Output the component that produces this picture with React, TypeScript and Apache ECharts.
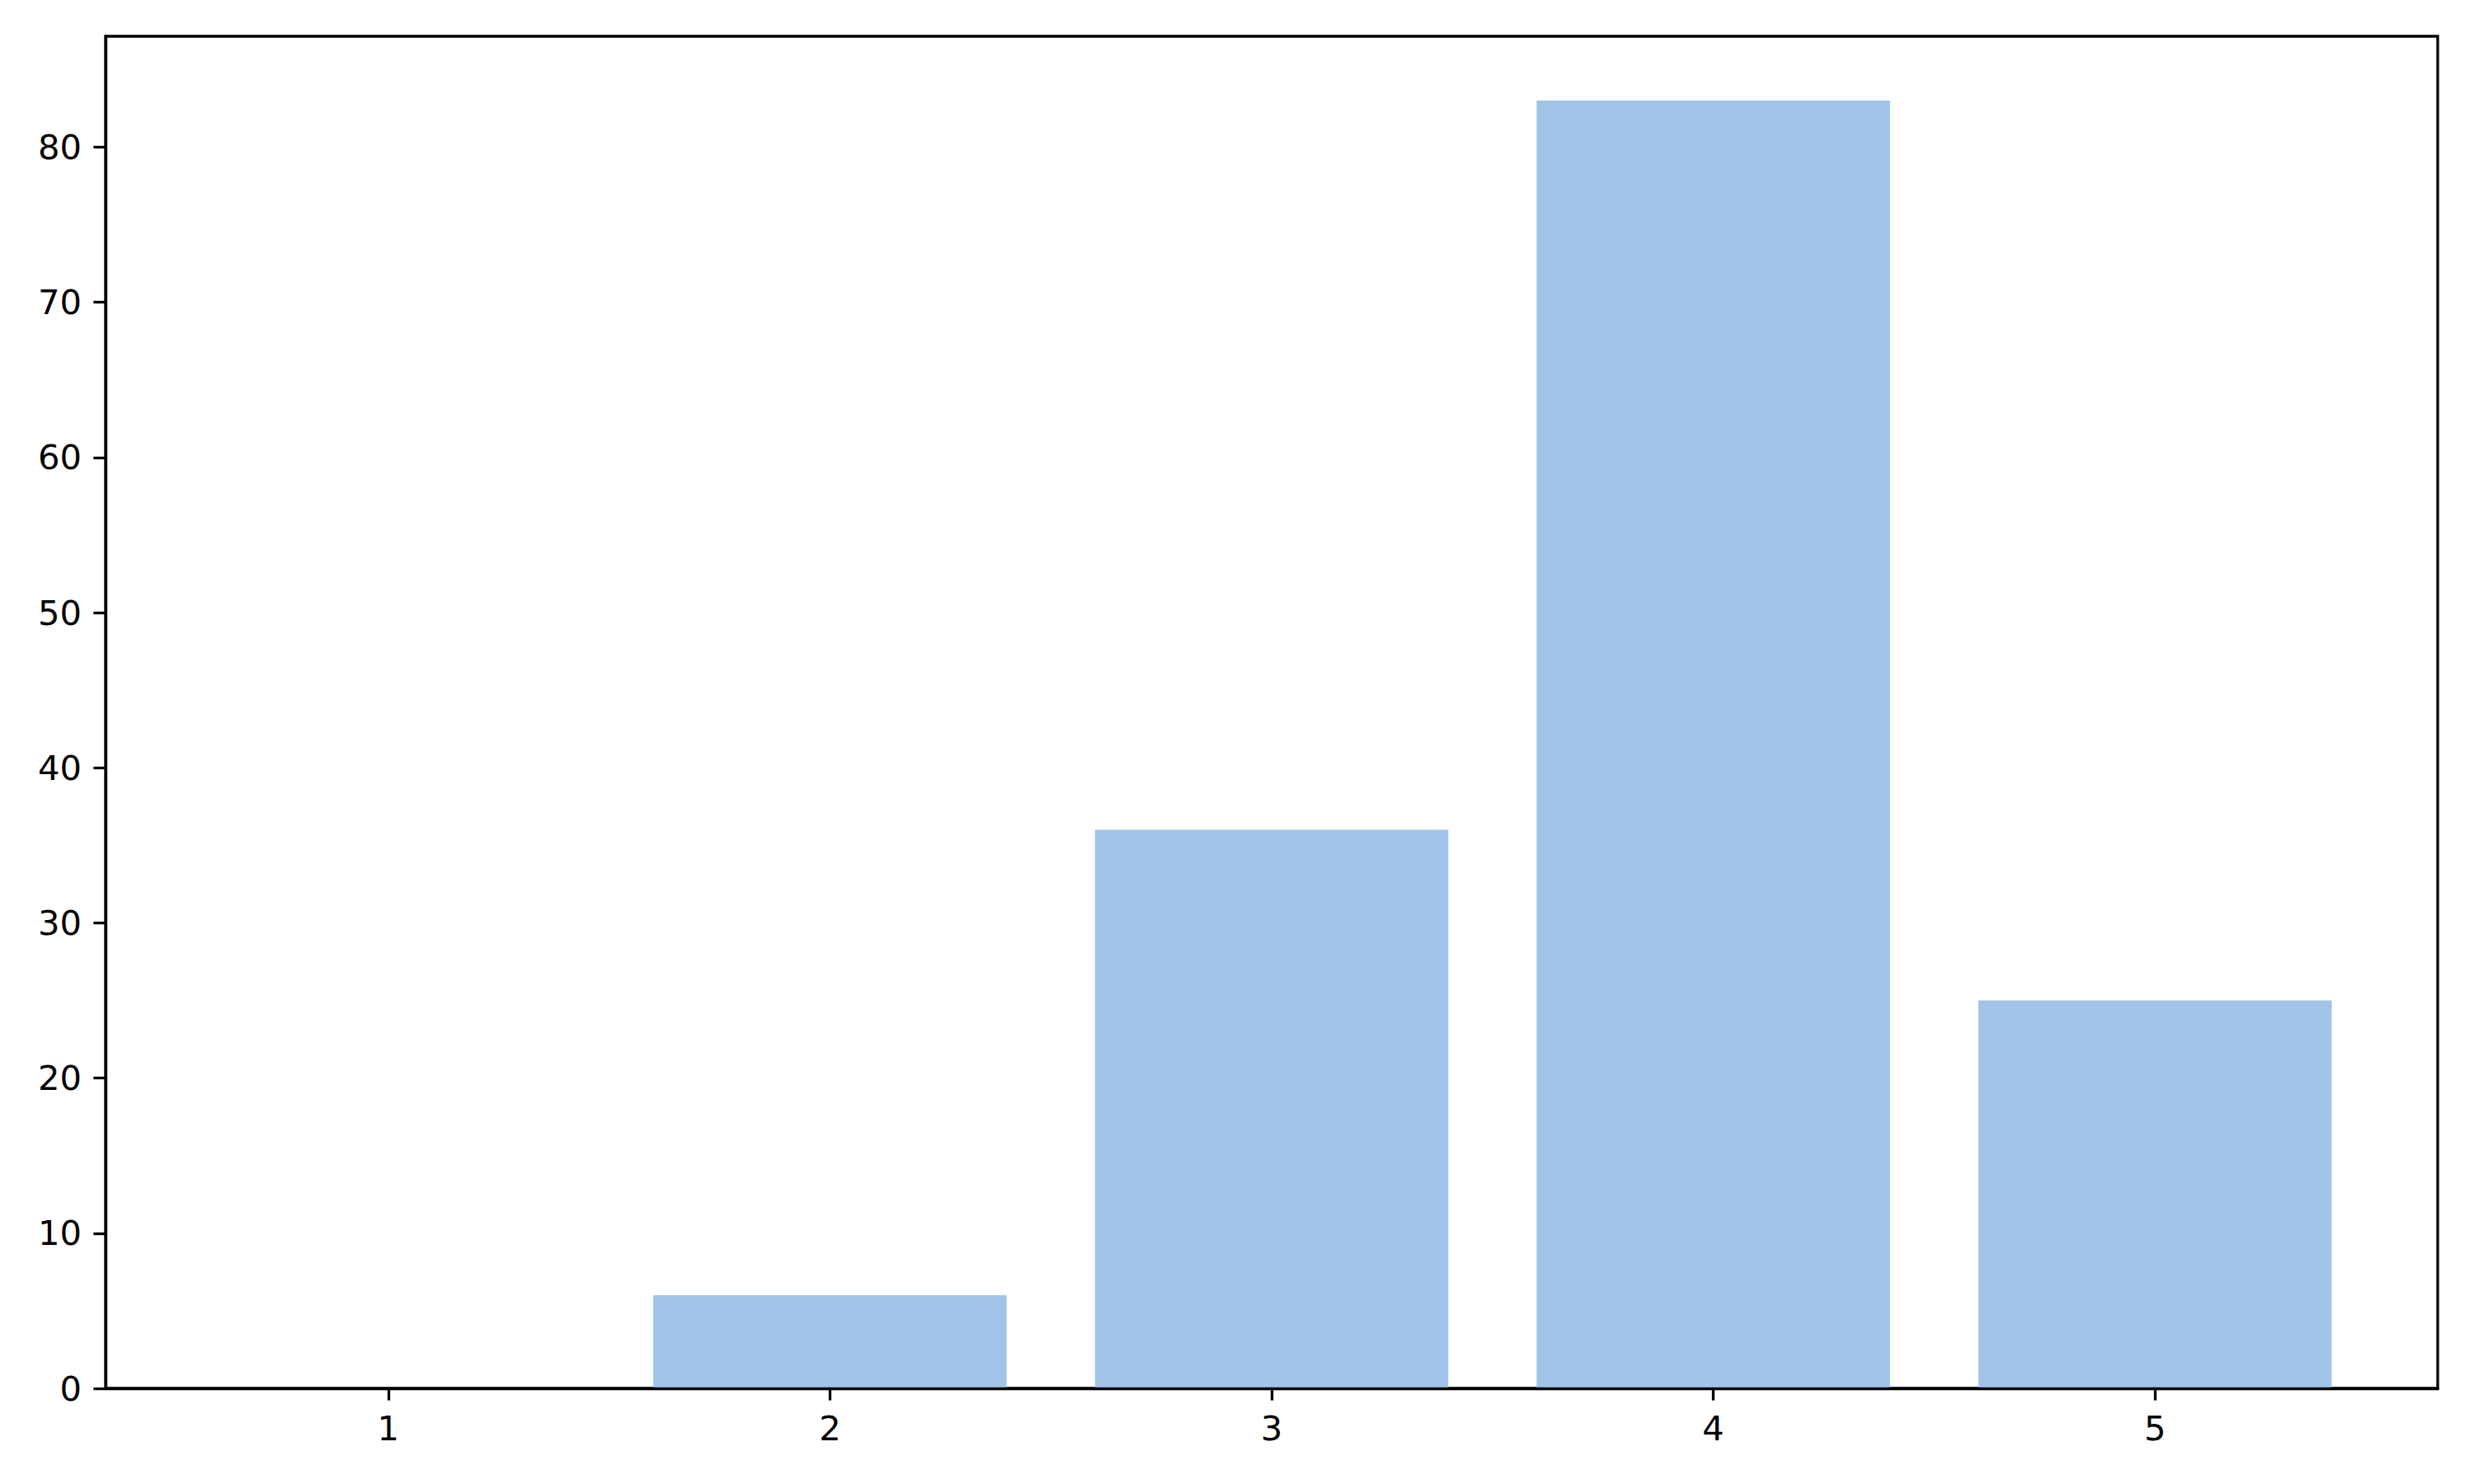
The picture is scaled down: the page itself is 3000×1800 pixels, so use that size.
import React, { useEffect, useRef } from "react";
import * as echarts from "echarts";

const categories = [1, 2, 3, 4, 5];
const values = [0, 6, 36, 83, 25];
const yTicks = [0, 10, 20, 30, 40, 50, 60, 70, 80];

const X_MIN = 0.36;
const X_MAX = 5.64;
const Y_MAX = 87.15;

const GRID = { left: 128, top: 44, width: 2828, height: 1640 };

export default function App() {
  const ref = useRef<HTMLDivElement>(null);
  useEffect(() => {
    document.body.style.margin = "0";
    if (!ref.current) return;
    const chart = echarts.init(ref.current, null, { renderer: "svg" });
    const barWidth = (0.8 * GRID.width) / (X_MAX - X_MIN);
    const font = "DejaVu Sans";
    chart.setOption({
      animation: false,
      backgroundColor: "#ffffff",
      grid: {
        left: GRID.left,
        top: GRID.top,
        width: GRID.width,
        height: GRID.height,
        show: true,
        borderColor: "#000000",
        borderWidth: 3.3,
        backgroundColor: "transparent",
      },
      xAxis: {
        type: "value",
        min: X_MIN,
        max: X_MAX,
        z: 10,
        axisLine: { show: true, onZero: false, lineStyle: { color: "#000", width: 3.3 } },
        splitLine: { show: false },
        axisTick: {
          show: true,
          inside: false,
          length: 14.6,
          lineStyle: { color: "#000", width: 3.3 },
          customValues: categories,
        },
        axisLabel: {
          show: true,
          margin: 27,
          color: "#000",
          fontFamily: font,
          fontSize: 41.7,
          customValues: categories,
          formatter: (v: number) => String(v),
        },
      },
      yAxis: {
        type: "value",
        min: 0,
        max: Y_MAX,
        z: 10,
        axisLine: { show: true, lineStyle: { color: "#000", width: 3.3 } },
        splitLine: { show: false },
        axisTick: {
          show: true,
          inside: false,
          length: 14.6,
          lineStyle: { color: "#000", width: 3.3 },
          customValues: yTicks,
        },
        axisLabel: {
          show: true,
          margin: 29,
          color: "#000",
          fontFamily: font,
          fontSize: 41.7,
          customValues: yTicks,
          formatter: (v: number) => String(v),
        },
      },
      series: [
        {
          type: "bar",
          data: categories.map((c, i) => [c, values[i]]),
          barWidth: barWidth,
          itemStyle: { color: "#a1c4e8" },
          z: 1,
        },
      ],
    });
    return () => chart.dispose();
  }, []);
  return (
    <div
      ref={ref}
      style={{ position: "absolute", left: 0, top: 0, width: 3000, height: 1800 }}
    />
  );
}
